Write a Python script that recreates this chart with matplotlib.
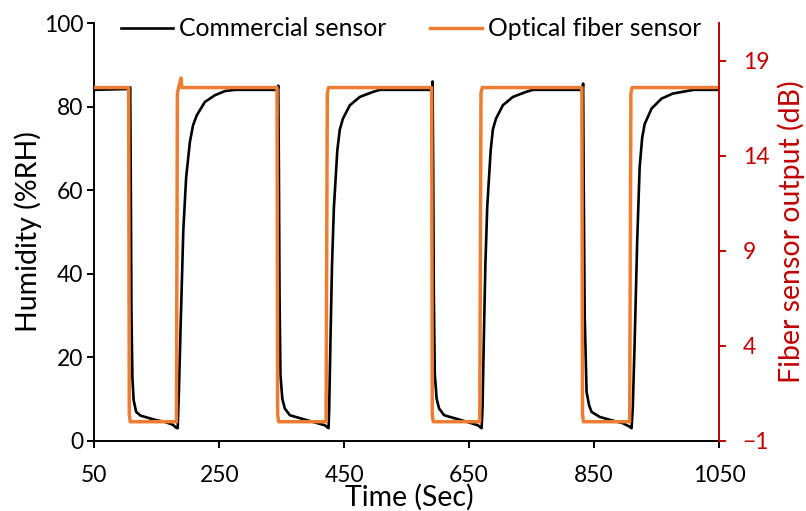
import matplotlib
matplotlib.use("Agg")
import matplotlib.pyplot as plt

# Commercial humidity sensor (%RH) vs time (s)
comm_time = [
    50, 106.5, 107.5, 108.5, 109.5, 111, 113, 117, 124, 131, 147, 163, 176, 181,
    183.5, 185.5, 188, 192.5, 197, 203, 208, 214, 227, 243, 259, 275,
    343.5, 344.5, 345.5, 346.5, 348, 351, 355, 363, 379, 400, 419, 423, 425,
    426, 428, 430.5, 433.5, 439, 443, 448, 459, 475, 496, 507,
    590.5, 591.5, 592.5, 593.5, 595, 598, 602, 610, 626, 647, 664, 668, 670,
    671.5, 673.5, 676, 679, 684.5, 688, 693, 704, 720, 741, 752,
    831.5, 832.5, 833.5, 835, 838, 842, 846, 859, 875, 896, 907, 910,
    912, 915, 919, 923, 927, 931, 942, 958, 976, 998, 1010, 1050,
]
comm_rh = [
    84.0, 84.2, 84.6, 60, 30, 15, 9.7, 6.9, 6.0, 5.7, 5.0, 4.5, 3.8, 3.1,
    3.0, 12.1, 26.5, 50.4, 63, 71.5, 75.5, 77.9, 81.1, 82.7, 83.7, 84.0,
    84.0, 85.0, 65, 35, 15.7, 10, 7.7, 6.1, 5.4, 4.5, 3.7, 3.2, 3.0,
    7.8, 23.7, 42, 55.7, 69.5, 74.5, 77.1, 80.3, 82.3, 83.5, 84.0,
    84.0, 86.0, 65, 35, 16, 10, 7.7, 6.1, 5.4, 4.5, 3.7, 3.2, 3.0,
    8, 24, 42, 56, 69.5, 74.5, 77.1, 80.3, 82.3, 83.5, 84.0,
    84.0, 85.5, 60, 30, 11.7, 8.5, 6.9, 5.7, 5.0, 4.2, 3.35, 3.0,
    8, 23.7, 47.6, 65.5, 72.5, 75.8, 79.5, 81.9, 83.1, 83.7, 84.0, 84.0,
]

# Optical fiber sensor output (dB) vs time (s)
fiber_time = [
    50, 105, 106, 107.5, 181.5, 183, 185, 189, 190,
    342.5, 343.5, 345, 421, 423, 425,
    590, 591, 592.5, 667, 669, 671,
    830.5, 831.5, 833, 907, 909, 911, 1050,
]
fiber_db = [
    17.6, 17.6, 0.4, 0.0, 0.0, 17.3, 17.6, 18.1, 17.6,
    17.6, 0.4, 0.0, 0.0, 17.3, 17.6,
    17.6, 0.4, 0.0, 0.0, 17.3, 17.6,
    17.6, 0.4, 0.0, 0.0, 17.3, 17.6, 17.6,
]

x_ticks = [50, 250, 450, 650, 850, 1050]
left_ticks = [0, 20, 40, 60, 80, 100]
right_ticks = [-1, 4, 9, 14, 19]

ORANGE = "#ED7D31"
RED = "#C00000"
FONT = "Lato"

plt.rcParams["font.family"] = [FONT, "DejaVu Sans"]

fig = plt.figure(figsize=(8.06, 5.11), dpi=100)
ax = fig.add_axes([94.3 / 806, 1 - 440.7 / 511, (719 - 94.3) / 806, (440.7 - 23) / 511])
ax2 = ax.twinx()

l1, = ax.plot(comm_time, comm_rh, color="black", lw=1.9, label="Commercial sensor")
l2, = ax2.plot(fiber_time, fiber_db, color=ORANGE, lw=2.5, label="Optical fiber sensor")

ax.set_xlim(50, 1050)
ax.set_ylim(0, 100)
ax2.set_ylim(-1, 21)
ax.set_xticks(x_ticks)
ax.set_yticks(left_ticks)
ax2.set_yticks(right_ticks)

for a in (ax, ax2):
    a.spines["top"].set_visible(False)
ax.spines["right"].set_visible(False)
ax2.spines["left"].set_visible(False)
ax2.spines["bottom"].set_visible(False)
ax.spines["left"].set_linewidth(1.4)
ax.spines["bottom"].set_linewidth(1.4)
ax2.spines["right"].set_linewidth(1.4)
ax2.spines["right"].set_color(RED)

ax.tick_params(axis="both", direction="out", length=5, width=1.4, labelsize=16.5)
ax.tick_params(axis="x", pad=12.5)
ax.tick_params(axis="y", pad=3)
ax2.tick_params(axis="y", direction="out", length=5, width=1.4, labelsize=16.5,
                colors=RED, pad=12)

ax.set_xlabel("Time (Sec)", fontsize=20.5)
ax.xaxis.set_label_coords(0.505, -0.104)
ax.set_ylabel("Humidity (%RH)", fontsize=20.5)
ax.yaxis.set_label_coords(-0.083, 0.5)
ax2.set_ylabel("Fiber sensor output (dB)", fontsize=20.5, color=RED)
ax2.yaxis.set_label_coords(1.094, 0.5)

ax2.legend([l1, l2], ["Commercial sensor", "Optical fiber sensor"], ncol=2,
           loc="center", bbox_to_anchor=(411 / 806, 1 - 29 / 511),
           bbox_transform=fig.transFigure, frameon=False, fontsize=17.8,
           handlelength=2.1, handletextpad=0.25, columnspacing=1.75,
           borderpad=0, borderaxespad=0)

fig.savefig("out.png", dpi=100)
